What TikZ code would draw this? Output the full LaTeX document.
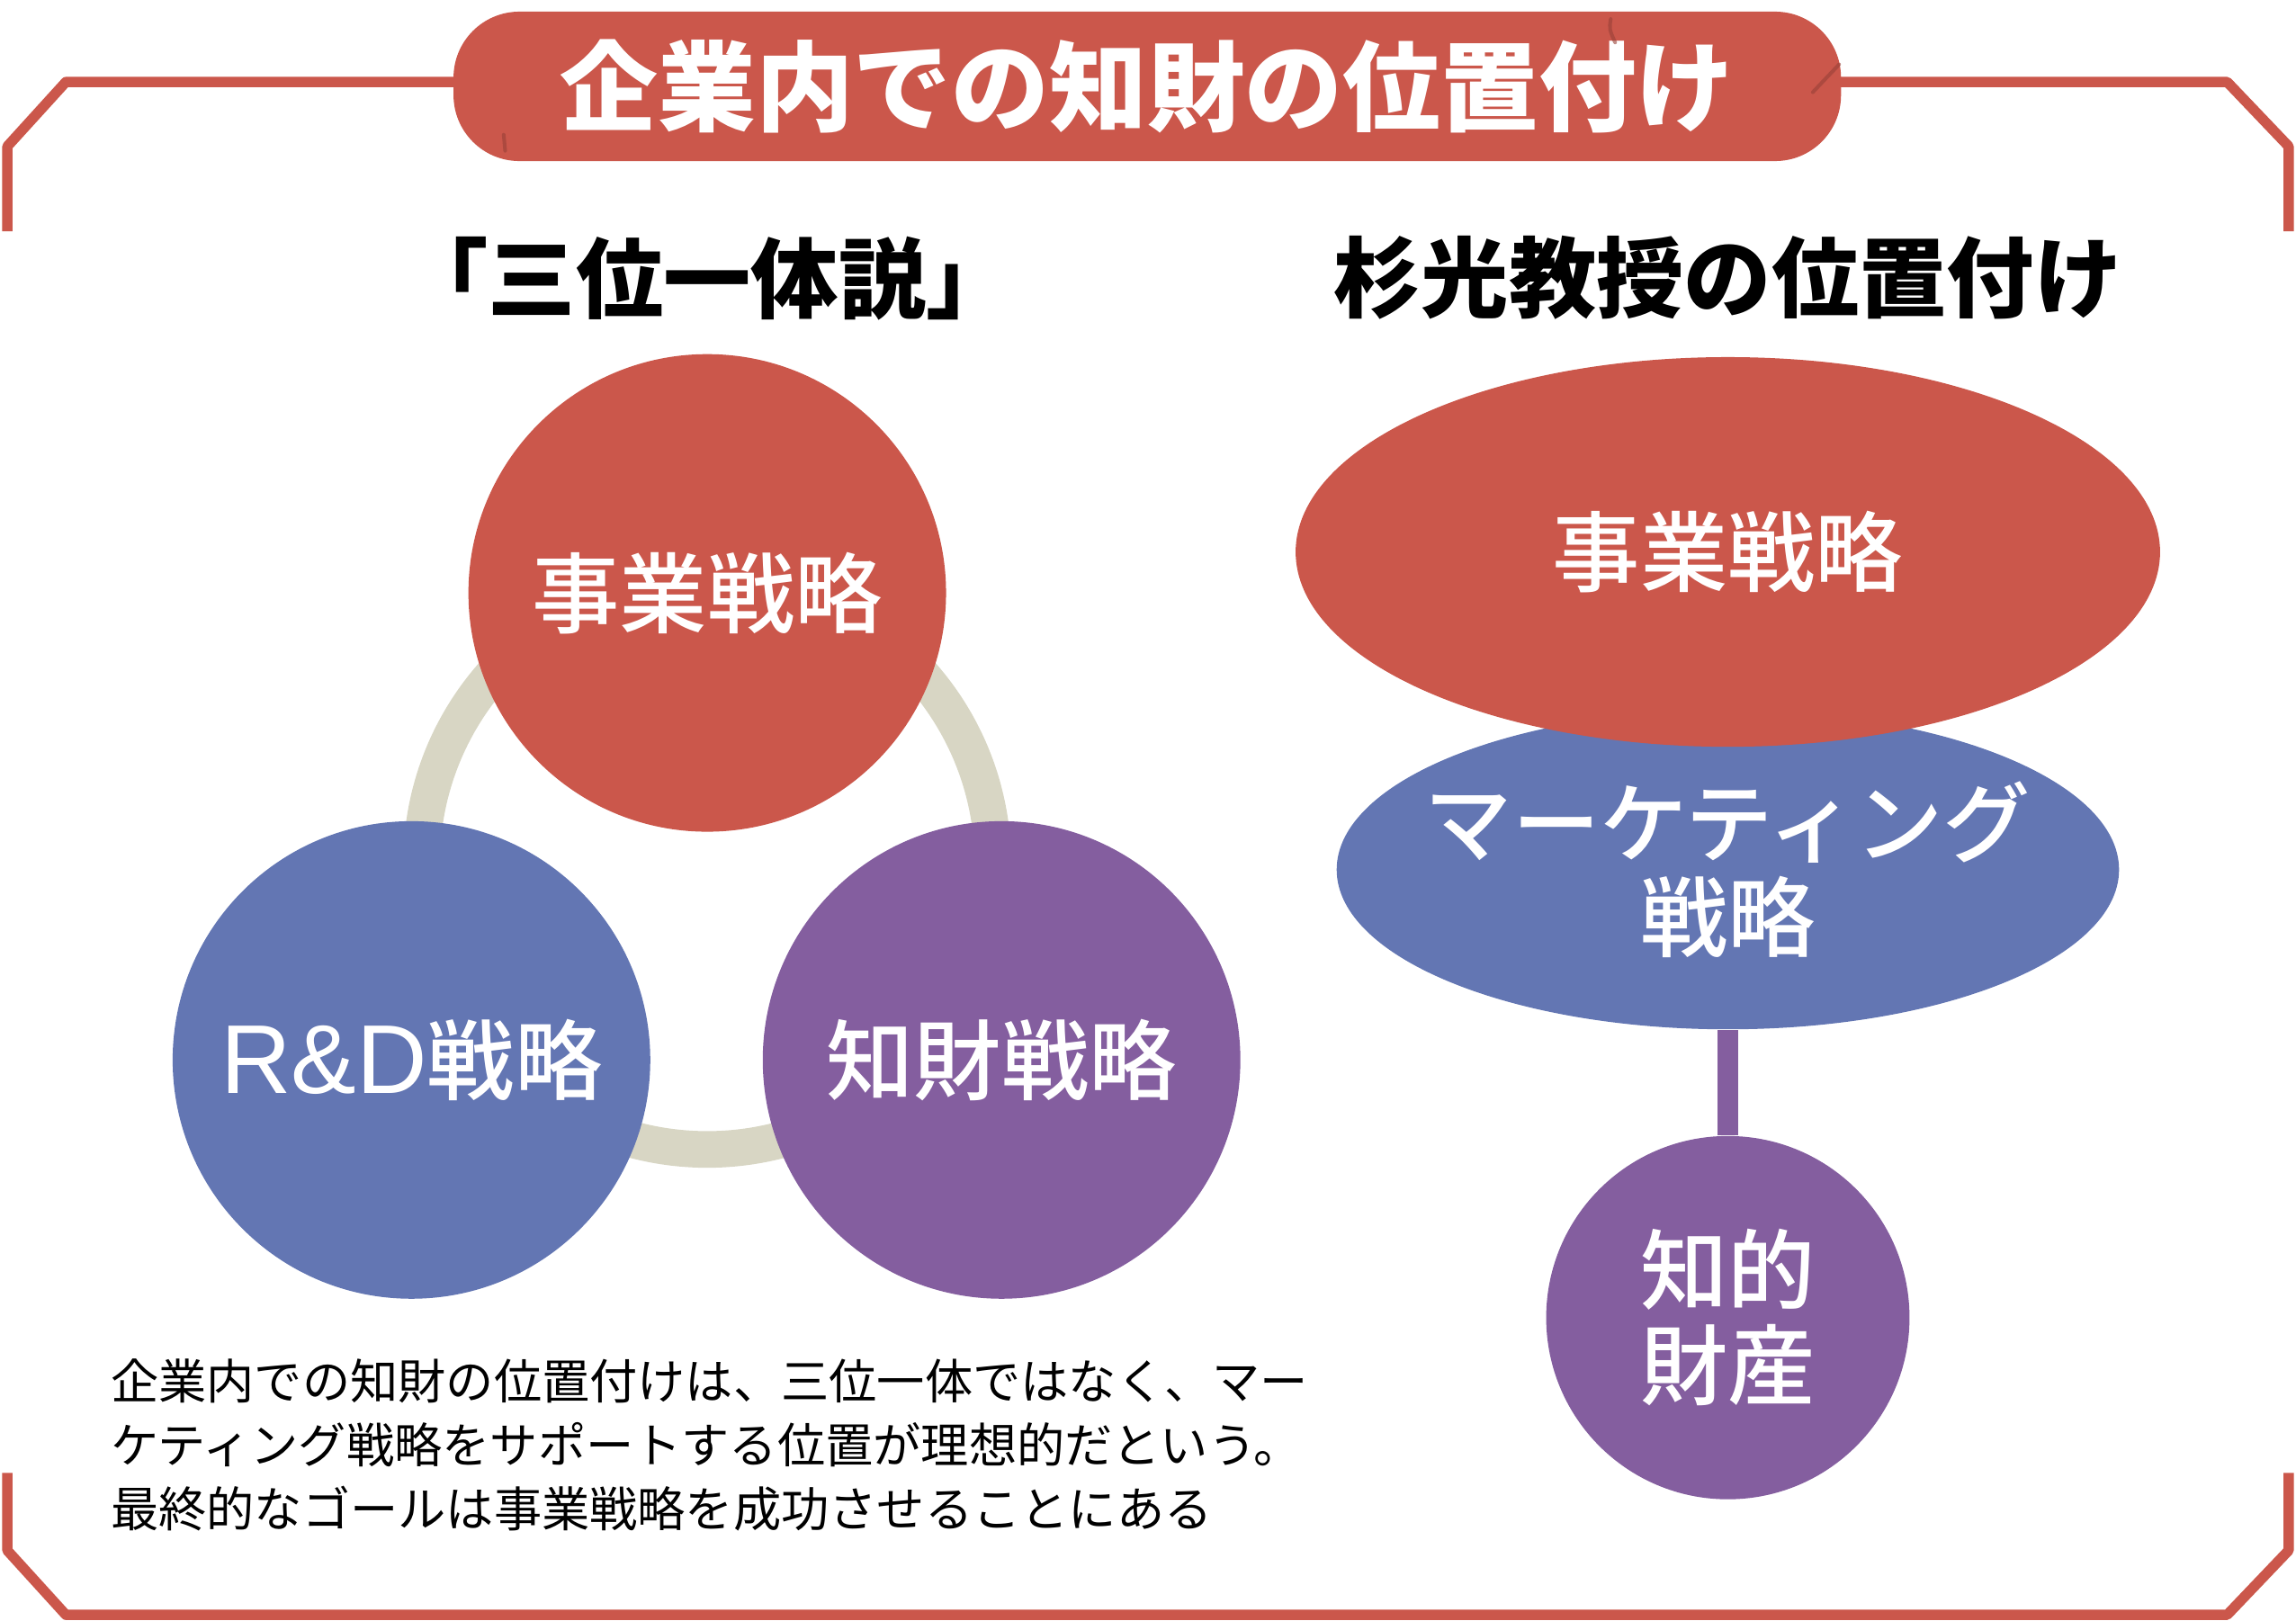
\documentclass[tikz,border=0pt]{standalone}
\usepackage{fontspec}
\newfontfamily\jp{Noto Sans CJK JP}
\newfontfamily\jpmed{Noto Sans CJK JP}[UprightFont=* Medium]
\newfontfamily\jpblack{Noto Sans CJK JP}[UprightFont=* Black]
\newfontfamily\latin{Liberation Sans}
\usepackage{tikz}
\usetikzlibrary{shapes.geometric}
\usetikzlibrary{positioning}

\definecolor{kred}{RGB}{203,87,75}
\definecolor{kblue}{RGB}{99,118,179}
\definecolor{kpurple}{RGB}{132,94,159}
\definecolor{kring}{RGB}{216,214,196}

\tikzset{
  frame/.style={kred, line width=0.07cm, line cap=butt},
  scratch/.style={kred!75!black, line width=0.025cm, opacity=0.6},
  titlebar/.style={fill=kred, rounded corners=0.45cm, minimum width=9.47cm, minimum height=1.02cm, text=white, font=\jpblack\fontsize{19pt}{20pt}\selectfont},
  heading/.style={font=\jpblack\fontsize{17pt}{18pt}\selectfont},
  bubble/.style={circle, inner sep=0pt, text=white, align=center, font=\jpmed\fontsize{17pt}{18.5pt}\selectfont},
  oval/.style={ellipse, inner sep=0pt, inner xsep=-0.4cm, text=white, align=center, font=\jpmed\fontsize{17pt}{18.5pt}\selectfont},
  note/.style={inner sep=0pt, align=left, font=\jp\fontsize{9.3pt}{12.4pt}\selectfont},
}

\begin{document}
\begin{tikzpicture}[line cap=round,line join=round, x=0.01cm, y=-0.01cm]
\useasboundingbox (0,0) rectangle (1568,1107);
% frame
\draw [frame] (310,56) -- (45,56) -- (5,100) -- (5,158);
\draw [frame] (1257,56) -- (1521,56) -- (1563,100) -- (1563,158);
\draw [frame] (5,1006) -- (5,1059) -- (45,1103) -- (1521,1103) -- (1563,1059) -- (1563,1006);
\node[titlebar] (title) at (783.5,59) {企業内での知財の位置付け};
\draw [scratch] (1100,13) .. controls (1099,20) .. (1103,29);
\draw [scratch] (1256,44) -- (1238,63);
\draw [scratch] (344,92) -- (345,103);

% three in one
\node[heading] (trinity) at (483,190) {「三位一体説」};
\coordinate (ringc) at (483,590);
\draw [kring, line width=0.25cm] (ringc) circle (1.95cm);
\node[bubble, fill=kred, minimum size=3.26cm] (biz) at (483,405) {事業戦略};
\node[bubble, fill=kblue, minimum size=3.26cm] (rnd) at (281,724) {{\latin\fontsize{19pt}{20pt}\selectfont R\&D}戦略};
\node[bubble, fill=kpurple, minimum size=3.26cm] (ipl) at (684,724) {知財戦略};

% professor
\node[heading] (prof) at (1180,190) {杉光教授の位置付け};
\node[oval, fill=kblue, minimum width=5.34cm, minimum height=2.18cm] (mkt) at (1180,594) {マーケティング\\戦略};
\node[oval, fill=kred, minimum width=5.9cm, minimum height=2.66cm] (bizr) at (1180,377) {事業戦略};
\node[bubble, fill=kpurple, minimum size=2.48cm] (ip) at (1180,900) {知的\\財産};
\draw [kpurple, line width=0.14cm, line cap=butt] (mkt.south) -- (ip.north);

\node[note, anchor=west] (note) at (75,987) {企業内での知財の位置付けは、三位一体ではなく、マー\\ケティング戦略をサポートする位置が理想的だという。\\最終的なゴールは事業戦略を成功させることにある};
\end{tikzpicture}
\end{document}
